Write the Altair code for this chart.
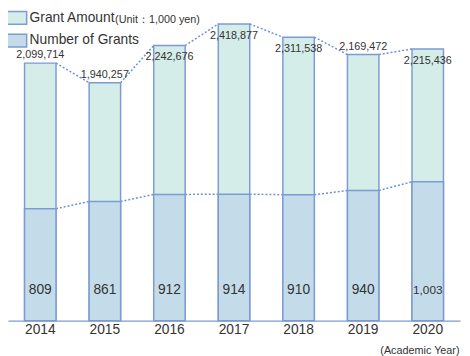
import altair as alt
import pandas as pd

years = ["2014", "2015", "2016", "2017", "2018", "2019", "2020"]
amounts = [2099714, 1940257, 2242676, 2418877, 2311538, 2169472, 2215436]
counts = [809, 861, 912, 914, 910, 940, 1003]
series_names = ["Grant Amount", "Number of Grants"]
unit_note = "(Unit：1,000 yen)"
x_title = "(Academic Year)"

GREEN = "#d4ede8"
BLUE = "#c4dcea"
STROKE = "#7d9bd3"
DOT = "#6f8fd4"
TXT = "#333333"
FONT = "Liberation Sans"

df = pd.DataFrame({"year": years, "amount": amounts, "count": counts})
df["amount_label"] = [f"{v:,}" for v in amounts]
df["count_label"] = [f"{v:,}" for v in counts]
seg = pd.DataFrame({
    "year": years[:-1], "next_year": years[1:],
    "amount": amounts[:-1], "next_amount": amounts[1:],
    "count": counts[:-1], "next_count": counts[1:],
})

amt_scale = alt.Scale(domain=[0, 2524000], nice=False, zero=True)
cnt_scale = alt.Scale(domain=[0, 2237], nice=False, zero=True)
x_scale = alt.Scale(domain=years, paddingInner=0.513, paddingOuter=0.2565)

x_enc = alt.X("year:N", scale=x_scale, sort=years,
              axis=alt.Axis(title=x_title, labelAngle=0, labelAlign="center",
                            ticks=False, labelPadding=9,
                            labelFontSize=14, labelFont=FONT, labelColor=TXT,
                            domainColor=STROKE, domainWidth=1.5,
                            titleFontSize=11, titleFont=FONT, titleColor=TXT,
                            titleFontWeight="normal", titleAnchor="end", titleAlign="right",
                            titleX=459, titleY=33, titleBaseline="alphabetic"))

color_scale = alt.Scale(domain=series_names, range=[GREEN, BLUE])
legend = alt.Legend(title=None, orient="none", legendX=0, legendY=0, padding=0,
                    symbolType="M-2,-1.08H2V1.08H-2Z", symbolSize=144,
                    symbolStrokeColor=STROKE, symbolStrokeWidth=1.5,
                    labelFontSize=14, labelFont=FONT, labelColor=TXT,
                    labelOffset=8, rowPadding=3)

base = alt.Chart(df)
segb = alt.Chart(seg)

amt_dots = segb.mark_rule(color=DOT, strokeDash=[2, 2], strokeWidth=1.5,
                          xOffset=16, x2Offset=-16).encode(
    x=alt.X("year:N", scale=x_scale, sort=years),
    x2="next_year:N",
    y=alt.Y("amount:Q", scale=amt_scale, axis=None),
    y2="next_amount:Q",
)
cnt_dots = segb.mark_rule(color=DOT, strokeDash=[2, 2], strokeWidth=1.5,
                          xOffset=16, x2Offset=-16).encode(
    x=alt.X("year:N", scale=x_scale, sort=years),
    x2="next_year:N",
    y=alt.Y("count:Q", scale=cnt_scale, axis=None),
    y2="next_count:Q",
)

amt_bars = base.transform_calculate(series="'Grant Amount'").mark_bar(
    stroke=STROKE, strokeWidth=1.5).encode(
    x=x_enc,
    y=alt.Y("amount:Q", scale=amt_scale, axis=None),
    color=alt.Color("series:N", scale=color_scale, legend=legend),
)
cnt_bars = base.transform_calculate(series="'Number of Grants'").mark_bar(
    stroke=STROKE, strokeWidth=1.5).encode(
    x=alt.X("year:N", scale=x_scale, sort=years),
    y=alt.Y("count:Q", scale=cnt_scale, axis=None),
    color=alt.Color("series:N", scale=color_scale, legend=legend),
)

amt_text_out = base.transform_filter("datum.amount < 2200000").mark_text(
    dy=-5, baseline="alphabetic", fontSize=11, font=FONT, color=TXT).encode(
    x=alt.X("year:N", scale=x_scale, sort=years),
    y=alt.Y("amount:Q", scale=amt_scale, axis=None),
    text="amount_label:N",
)
amt_text_in = base.transform_filter("datum.amount >= 2200000").mark_text(
    dy=15, baseline="alphabetic", fontSize=11, font=FONT, color=TXT).encode(
    x=alt.X("year:N", scale=x_scale, sort=years),
    y=alt.Y("amount:Q", scale=amt_scale, axis=None),
    text="amount_label:N",
)
cnt_text = base.mark_text(dy=-27, baseline="alphabetic", font=FONT, color=TXT).encode(
    x=alt.X("year:N", scale=x_scale, sort=years),
    y=alt.Y("zero:Q", scale=cnt_scale, axis=None),
    text="count_label:N",
    size=alt.condition("datum.count >= 1000", alt.value(12), alt.value(14)),
).transform_calculate(zero="0")

unit = alt.Chart(pd.DataFrame({"t": [unit_note]})).mark_text(
    align="left", baseline="alphabetic", fontSize=11, font=FONT, color=TXT).encode(
    x=alt.value(109), y=alt.value(12), text="t:N")

chart = alt.layer(amt_dots, cnt_dots, amt_bars, cnt_bars, amt_text_out, amt_text_in,
                  cnt_text, unit).resolve_scale(y="independent").properties(
    width=460, height=315,
    autosize=alt.AutoSizeParams(type="none"),
    padding={"left": 0, "top": 0, "right": 2, "bottom": 41},
).configure_view(stroke=None)

chart.save("out.html", embed_options={"renderer": "svg", "actions": False})
